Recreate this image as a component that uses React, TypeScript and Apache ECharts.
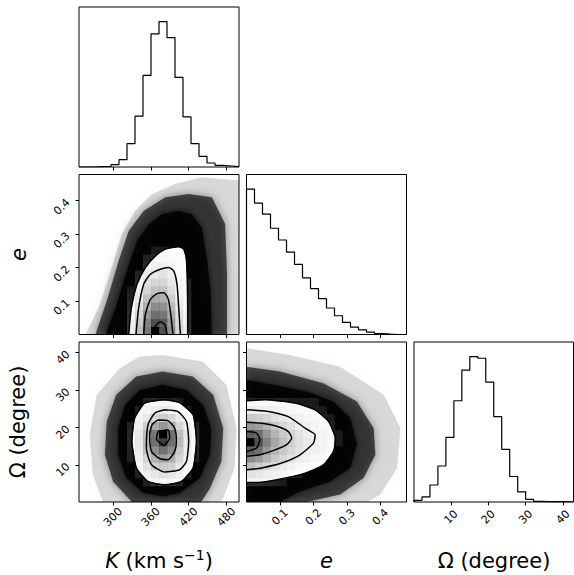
import React, { useEffect, useRef } from "react";
import * as echarts from "echarts";

const FONT = "'DejaVu Sans', Verdana, sans-serif";

// axis ranges (data units)
const K_RANGE = [246, 500];
const E_RANGE = [0, 0.478];
const OMEGA_RANGE = [0.1, 42.8];
const N_BINS = 20;

// tick values
const K_TICKS = [300, 360, 420, 480];
const E_TICKS = [0.1, 0.2, 0.3, 0.4];
const OMEGA_TICKS = [10, 20, 30, 40];

// 1D histograms (20 bins each)
const K_HIST = [0, 0, 1, 2, 7, 22, 70, 152, 274, 398, 435, 387, 268, 150, 70, 32, 12, 5, 3, 1];
const E_HIST = [434, 392, 359, 317, 282, 246, 209, 169, 137, 107, 79, 56, 36, 22, 14, 7, 3, 1, 0, 0];
const OMEGA_HIST = [5, 15, 50, 106, 190, 298, 388, 428, 423, 353, 251, 155, 75, 30, 8, 2, 1, 1, 1, 0];

// 2D density (relative, 0-100): [row bin, first column bin, values...]
type Row = [number, number, number[]];
const KE_DENSITY: Row[] = [
  [0, 6, [28, 51, 73, 100, 83, 67, 40, 24]],
  [1, 6, [24, 46, 70, 83, 80, 64, 37, 20]],
  [2, 6, [20, 40, 64, 75, 73, 58, 34, 20]],
  [3, 6, [17, 34, 56, 67, 66, 51, 28, 17]],
  [4, 6, [14, 28, 49, 58, 56, 44, 24, 14]],
  [5, 6, [11, 24, 40, 49, 49, 37, 20, 14]],
  [6, 7, [20, 34, 40, 40, 31, 20, 14]],
  [7, 7, [14, 28, 31, 33, 26, 17]],
  [8, 8, [20, 24, 24, 20, 14]],
  [9, 8, [14, 17, 17, 14, 11]],
  [10, 9, [11, 11, 11]],
];
const KO_DENSITY: Row[] = [
  [2, 8, [14, 20, 20, 20, 14]],
  [3, 7, [14, 24, 31, 34, 31, 24, 14]],
  [4, 7, [20, 33, 44, 46, 44, 31, 20]],
  [5, 6, [14, 24, 42, 56, 61, 56, 40, 24, 14]],
  [6, 6, [14, 28, 49, 67, 75, 67, 46, 28, 14]],
  [7, 6, [17, 30, 52, 75, 88, 75, 52, 30, 17]],
  [8, 6, [17, 30, 50, 73, 100, 75, 50, 30, 17]],
  [9, 6, [14, 26, 42, 58, 64, 58, 40, 24, 14]],
  [10, 7, [20, 30, 40, 44, 40, 28, 17]],
  [11, 7, [14, 20, 26, 28, 24, 17, 11]],
  [12, 8, [14, 17, 17, 14, 11]],
];
const EO_DENSITY: Row[] = [
  [2, 0, [20, 20, 17, 14, 11]],
  [3, 0, [34, 31, 26, 23, 20, 14, 11]],
  [4, 0, [50, 46, 40, 33, 28, 23, 17, 14]],
  [5, 0, [67, 63, 54, 46, 40, 33, 28, 23, 17, 14]],
  [6, 0, [80, 75, 64, 54, 46, 40, 33, 26, 23, 20, 14]],
  [7, 0, [100, 83, 70, 59, 50, 42, 34, 28, 24, 20, 14, 11]],
  [8, 0, [80, 75, 64, 54, 46, 40, 33, 26, 23, 20, 14, 11]],
  [9, 0, [64, 61, 54, 46, 40, 34, 28, 24, 20, 17, 14]],
  [10, 0, [46, 44, 40, 34, 30, 26, 23, 20, 17, 14, 11]],
  [11, 0, [28, 26, 24, 23, 20, 17, 14, 14, 11, 11]],
  [12, 0, [14, 14, 14, 14, 14, 11, 11, 11, 11]],
];

// contour levels (outer -> inner), in data units
const KE_CONTOURS = [
  [[324.9, 0], [329.2, 0.08], [338.1, 0.15], [351.4, 0.2], [367.3, 0.235], [383.1, 0.255], [404.3, 0.262], [412.2, 0.255], [416.5, 0.222], [418, 0.15], [418.5, 0.081], [418.5, 0]],
  [[336.5, 0], [340.8, 0.08], [348.7, 0.15], [359.3, 0.18], [375.2, 0.195], [388.4, 0.2], [396.3, 0.19], [401.6, 0.15], [404.3, 0.08], [407, 0]],
  [[348.7, 0], [351.4, 0.06], [359.3, 0.105], [369.8, 0.122], [380.9, 0.125], [387.9, 0.105], [391.6, 0.06], [395.2, 0]],
  [[364.6, 0], [367.3, 0.025], [375.2, 0.038], [382, 0.03], [385.7, 0]],
];
const KO_CONTOURS = [
  [[382, 27.4], [405.8, 26.6], [427, 23.4], [432.3, 16.3], [427, 9.2], [408.5, 5.6], [382, 4.7], [355.5, 5.6], [337.1, 9.2], [330.1, 16.3], [334.4, 22.5], [350.3, 26.5]],
  [[382, 24.7], [403.1, 24.2], [416.5, 21.6], [420.1, 16.3], [416.5, 10.9], [405.8, 8.7], [382, 8.1], [360.9, 10.1], [353, 14.5], [355.5, 20.7], [366.2, 23.8]],
  [[371.4, 22], [387.3, 21.8], [397.9, 19.8], [400.6, 16.3], [397.9, 13.6], [387.3, 11.4], [374.1, 11.7], [361, 13.6], [358.2, 18], [361.9, 20.7]],
  [[371.4, 18.9], [387.3, 19.4], [390, 17.2], [380.9, 15.2], [368.9, 17]],
];
const EO_CONTOURS = [
  [[0, 27.1], [0.055, 27.4], [0.145, 26.5], [0.205, 24.7], [0.245, 21.6], [0.265, 17.2], [0.26, 13.6], [0.23, 10], [0.175, 7.8], [0.095, 6.1], [0.035, 5.3], [0, 5.3]],
  [[0, 24.7], [0.055, 24.4], [0.125, 22.9], [0.175, 19.8], [0.205, 18], [0.2, 15.8], [0.16, 12.7], [0.105, 10.5], [0.045, 9.2], [0, 8.7]],
  [[0, 21.4], [0.045, 21.1], [0.095, 20.2], [0.125, 18.9], [0.135, 17.2], [0.12, 15.4], [0.085, 14], [0.04, 12.7], [0, 12.3]],
  [[0, 18.9], [0.03, 18.5], [0.04, 16.7], [0.03, 14.5], [0, 13.6]],
];

// outlines of the sample cloud (sparse -> mid -> dense)
const KE_CLOUD = [
  [[256, 0], [277, 0.08], [298, 0.2], [314, 0.3], [335, 0.37], [362, 0.42], [399, 0.45], [441, 0.47], [500, 0.46], [500, 0]],
  [[272, 0], [290, 0.1], [309, 0.22], [325, 0.31], [349, 0.37], [383, 0.41], [420, 0.42], [457, 0.41], [478, 0.33], [481, 0.18], [481, 0]],
  [[288, 0], [304, 0.08], [320, 0.18], [338, 0.28], [357, 0.33], [378, 0.36], [404, 0.37], [425, 0.36], [441, 0.32], [449, 0.23], [455, 0.13], [457, 0]],
];
const KO_CLOUD = [
  [[379, 39.3], [443, 37.5], [480, 31.4], [496, 19.8], [493, 9.2], [475, 1.2], [470, 0.1], [284, 0.1], [268, 7.4], [263, 18], [274, 28.7], [311, 35.8], [342, 38.9]],
  [[379, 34.9], [427, 33.6], [459, 28.7], [475, 19.8], [472, 10.9], [454, 3.8], [440, 0.1], [330, 0.1], [300, 5.6], [287, 12.7], [290, 21.6], [305, 28.7], [337, 33.6]],
  [[379, 31.4], [417, 30], [443, 26], [456, 19.8], [454, 12.7], [438, 6.5], [406, 2.5], [379, 1.6], [348, 2.5], [321, 6.5], [308, 12.7], [308, 19.8], [319, 26], [342, 30]],
];
const EO_CLOUD = [
  [[0, 41.1], [0.13, 39.3], [0.28, 36.2], [0.41, 28.7], [0.46, 19.8], [0.45, 9.2], [0.4, 2.1], [0.36, 0.1], [0, 0.1]],
  [[0, 36.2], [0.1, 34.9], [0.23, 31.8], [0.33, 26.9], [0.38, 19.8], [0.385, 12.7], [0.35, 6.5], [0.28, 2.1], [0.18, 0.1], [0, 0.1]],
  [[0, 32.7], [0.08, 31.4], [0.18, 29.6], [0.26, 26.9], [0.31, 22.5], [0.33, 15.4], [0.31, 9.2], [0.25, 5.6], [0.16, 2.9], [0.1, 0.1], [0, 0.1]],
];

const CLOUD_FILLS = ["rgba(0,0,0,0.14)", "rgba(0,0,0,0.62)", "rgba(0,0,0,0.82)"];
const CLOUD_BLUR = [14, 8, 6];

// layout
const COL_LEFT = [79, 246.5, 414];
const ROW_TOP = [7, 174.5, 342];
const PANEL = 160;

function grid(col: number, row: number) {
  return { left: COL_LEFT[col], top: ROW_TOP[row], width: PANEL, height: PANEL, containLabel: false, show: false };
}

function axis(gridIndex: number, range: number[], ticks: number[] | null, showLabels: boolean, isX: boolean) {
  return {
    type: "value",
    gridIndex,
    min: range[0],
    max: range[1],
    axisLine: { show: false, onZero: false },
    splitLine: { show: false },
    axisTick: {
      show: !!ticks,
      customValues: ticks || [],
      length: 3.5,
      lineStyle: { color: "#000", width: 1 },
    },
    axisLabel: {
      show: showLabels,
      customValues: ticks || [],
      rotate: 45,
      fontSize: 11,
      fontFamily: FONT,
      color: "#000",
      margin: isX ? 15 : 11,
      ...(isX ? { align: "center", verticalAlign: "middle" } : {}),
    },
  };
}

function histSeries(g: number, range: number[], counts: number[]) {
  const w = (range[1] - range[0]) / counts.length;
  const pts: number[][] = [[range[0], 0]];
  counts.forEach((c, i) => {
    pts.push([range[0] + i * w, c]);
    pts.push([range[0] + (i + 1) * w, c]);
  });
  pts.push([range[1], 0]);
  return {
    type: "line", xAxisIndex: g, yAxisIndex: g, data: pts, symbol: "none", showSymbol: false,
    lineStyle: { color: "#000", width: 1.2 }, z: 5, silent: true,
  };
}

function frameSeries(g: number, xr: number[], yr: number[]) {
  return {
    type: "custom", xAxisIndex: g, yAxisIndex: g, z: 20, clip: false, silent: true,
    data: [[xr[0], yr[0]]],
    renderItem: (_p: any, api: any) => {
      const a = api.coord([xr[0], yr[0]]);
      const b = api.coord([xr[1], yr[1]]);
      return {
        type: "rect",
        shape: { x: a[0], y: b[1], width: b[0] - a[0], height: a[1] - b[1] },
        style: { fill: "none", stroke: "#000", lineWidth: 1 },
      };
    },
  };
}

function polygonSeries(g: number, polys: number[][][], fills: string[], blur: number[], z: number) {
  return {
    type: "custom", xAxisIndex: g, yAxisIndex: g, z, clip: true, silent: true,
    data: polys.map((p) => p[0]),
    renderItem: (params: any, api: any) => {
      const i = params.dataIndex;
      const poly = polys[i];
      return {
        type: "polygon",
        shape: { points: poly.map((p) => api.coord(p)) },
        style: {
          fill: fills[i], stroke: "none",
          ...(blur[i] ? { shadowBlur: blur[i], shadowColor: fills[i] } : {}),
        },
      };
    },
  };
}

function densitySeries(g: number, xr: number[], yr: number[], rows: Row[]) {
  const dx = (xr[1] - xr[0]) / N_BINS;
  const dy = (yr[1] - yr[0]) / N_BINS;
  const data: number[][] = [];
  rows.forEach(([j, c0, vals]) => {
    vals.forEach((v, k) => {
      const i = c0 + k;
      data.push([xr[0] + (i + 0.5) * dx, yr[0] + (j + 0.5) * dy, v]);
    });
  });
  return {
    type: "custom", xAxisIndex: g, yAxisIndex: g, z: 4, clip: true, silent: true,
    data,
    renderItem: (_p: any, api: any) => {
      const cx = api.value(0), cy = api.value(1), d = api.value(2) / 100;
      const a = api.coord([cx - dx / 2, cy - dy / 2]);
      const b = api.coord([cx + dx / 2, cy + dy / 2]);
      const v = Math.round(255 * (1 - d));
      return {
        type: "rect",
        shape: { x: a[0], y: b[1], width: b[0] - a[0] + 0.3, height: a[1] - b[1] + 0.3 },
        style: { fill: `rgba(${v},${v},${v},${d})` },
      };
    },
  };
}

function contourSeries(g: number, lines: number[][][], closed: boolean) {
  return lines.map((ln) => ({
    type: "line", xAxisIndex: g, yAxisIndex: g, z: 6, silent: true,
    data: closed ? [...ln, ln[0]] : ln,
    symbol: "none", showSymbol: false, smooth: 0.2,
    lineStyle: { color: "#000", width: 1.5 },
  }));
}

function panel2D(g: number, xr: number[], yr: number[], cloud: number[][][], contours: number[][][], density: Row[], closed: boolean) {
  return [
    polygonSeries(g, cloud, CLOUD_FILLS, CLOUD_BLUR, 2),
    polygonSeries(g, [contours[0]], ["#fff"], [0], 3),
    densitySeries(g, xr, yr, density),
    ...contourSeries(g, contours, closed),
    frameSeries(g, xr, yr),
  ];
}

export default function App() {
  const ref = useRef<HTMLDivElement>(null);
  useEffect(() => {
    if (!ref.current) return;
    const chart = echarts.init(ref.current, null, { renderer: "svg" });
    const kMax = Math.max(...K_HIST) * 1.1;
    const eMax = Math.max(...E_HIST) * 1.1;
    const oMax = Math.max(...OMEGA_HIST) * 1.1;
    const option: any = {
      animation: false,
      backgroundColor: "#fff",
      grid: [grid(0, 0), grid(0, 1), grid(1, 1), grid(0, 2), grid(1, 2), grid(2, 2)],
      xAxis: [
        axis(0, K_RANGE, K_TICKS, false, true),
        axis(1, K_RANGE, K_TICKS, false, true),
        axis(2, E_RANGE, E_TICKS, false, true),
        axis(3, K_RANGE, K_TICKS, true, true),
        axis(4, E_RANGE, E_TICKS, true, true),
        axis(5, OMEGA_RANGE, OMEGA_TICKS, true, true),
      ],
      yAxis: [
        axis(0, [0, kMax], null, false, false),
        axis(1, E_RANGE, E_TICKS, true, false),
        axis(2, [0, eMax], null, false, false),
        axis(3, OMEGA_RANGE, OMEGA_TICKS, true, false),
        axis(4, OMEGA_RANGE, OMEGA_TICKS, false, false),
        axis(5, [0, oMax], null, false, false),
      ],
      series: [
        histSeries(0, K_RANGE, K_HIST),
        frameSeries(0, K_RANGE, [0, kMax]),
        ...panel2D(1, K_RANGE, E_RANGE, KE_CLOUD, KE_CONTOURS, KE_DENSITY, false),
        histSeries(2, E_RANGE, E_HIST),
        frameSeries(2, E_RANGE, [0, eMax]),
        ...panel2D(3, K_RANGE, OMEGA_RANGE, KO_CLOUD, KO_CONTOURS, KO_DENSITY, true),
        ...panel2D(4, E_RANGE, OMEGA_RANGE, EO_CLOUD, EO_CONTOURS, EO_DENSITY, false),
        histSeries(5, OMEGA_RANGE, OMEGA_HIST),
        frameSeries(5, OMEGA_RANGE, [0, oMax]),
      ],
      graphic: [
        {
          type: "text", x: 159, y: 561, z: 30,
          style: {
            text: "{i|K} (km s{s|−1})", align: "center", verticalAlign: "middle",
            fontSize: 21, fontFamily: FONT, fill: "#000", lineHeight: 26,
            rich: {
              i: { fontStyle: "italic", fontSize: 21, fontFamily: FONT, fill: "#000", lineHeight: 26 },
              s: { fontSize: 14, fontFamily: FONT, fill: "#000", verticalAlign: "top", lineHeight: 16 },
            },
          },
        },
        {
          type: "text", x: 326.5, y: 561, z: 30,
          style: { text: "e", align: "center", verticalAlign: "middle", fontSize: 21, fontStyle: "italic", fontFamily: FONT, fill: "#000" },
        },
        {
          type: "text", x: 494, y: 561, z: 30,
          style: { text: "Ω (degree)", align: "center", verticalAlign: "middle", fontSize: 21, fontFamily: FONT, fill: "#000" },
        },
        {
          type: "text", x: 19, y: 254.5, rotation: Math.PI / 2, z: 30,
          style: { text: "e", align: "center", verticalAlign: "middle", fontSize: 21, fontStyle: "italic", fontFamily: FONT, fill: "#000" },
        },
        {
          type: "text", x: 18, y: 422, rotation: Math.PI / 2, z: 30,
          style: { text: "Ω (degree)", align: "center", verticalAlign: "middle", fontSize: 21, fontFamily: FONT, fill: "#000" },
        },
      ],
    };
    chart.setOption(option);
    return () => chart.dispose();
  }, []);
  return <div ref={ref} style={{ position: "absolute", left: 0, top: 0, width: 574, height: 575 }} />;
}
